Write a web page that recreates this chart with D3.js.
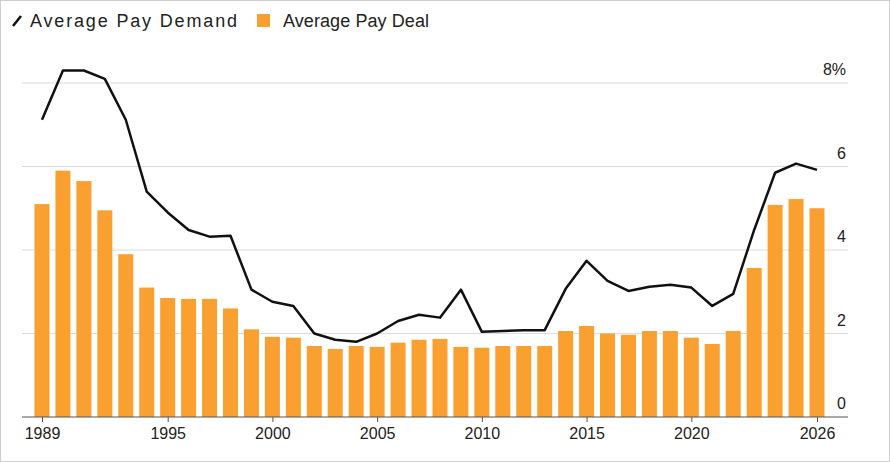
<!DOCTYPE html>
<html lang="en">
<head>
<meta charset="UTF-8">
<script src="https://d3js.org/d3.v7.min.js"></script>
<style>
  body { margin: 0; background: #fff; font-family: Arial, "Liberation Sans", sans-serif; }
  #frame { position: absolute; left: 0; top: 0; width: 888px; height: 460px; border: 1px solid #cfcfcf; }
</style>
</head>
<body>
<div id="frame"></div>
<svg id="viz" width="890" height="462" style="position:absolute;left:0;top:0"></svg>
<script>
var years = d3.range(1989, 2027);
var payDeal = [5.1, 5.9, 5.65, 4.95, 3.9, 3.1, 2.85, 2.83, 2.83, 2.6,
               2.1, 1.92, 1.9, 1.7, 1.63, 1.7, 1.68, 1.78, 1.85, 1.87,
               1.68, 1.66, 1.7, 1.7, 1.7, 2.06, 2.18, 2.0, 1.97, 2.06,
               2.06, 1.9, 1.75, 2.06, 3.57, 5.08, 5.22, 5.0];
var payDemand = [7.12, 8.3, 8.3, 8.1, 7.12, 5.4, 4.9, 4.48, 4.32, 4.34,
                 3.05, 2.76, 2.66, 2.0, 1.85, 1.8, 2.0, 2.3, 2.45, 2.38,
                 3.05, 2.04, 2.06, 2.08, 2.08, 3.07, 3.74, 3.26, 3.02, 3.12,
                 3.17, 3.1, 2.66, 2.95, 4.48, 5.85, 6.07, 5.92];
var yTicks = [0, 2, 4, 6, 8];
var xTicks = [1989, 1995, 2000, 2005, 2010, 2015, 2020, 2026];

var svg = d3.select("#viz");
var left = 22, right = 848, y0 = 417, y8 = 83;

var x = d3.scaleLinear().domain([1989, 2026]).range([42, 817]);
var y = d3.scaleLinear().domain([0, 8]).range([y0, y8]);
var bw = 15;

// grid
svg.append("g").selectAll("line").data(yTicks.filter(function(d){ return d > 0; }))
  .enter().append("line")
  .attr("x1", left).attr("x2", right)
  .attr("y1", function(d){ return y(d); }).attr("y2", function(d){ return y(d); })
  .attr("stroke", "#dcdcdc").attr("stroke-width", 1);

// bars
svg.append("g").selectAll("rect").data(payDeal)
  .enter().append("rect")
  .attr("x", function(d, i){ return x(years[i]) - bw / 2; })
  .attr("y", function(d){ return y(d); })
  .attr("width", bw)
  .attr("height", function(d){ return y0 - y(d); })
  .attr("fill", "#f9a030");

// baseline
svg.append("line").attr("x1", left).attr("x2", right).attr("y1", y0).attr("y2", y0)
  .attr("stroke", "#555").attr("stroke-width", 1);

// line
svg.append("path").datum(payDemand)
  .attr("fill", "none").attr("stroke", "#111").attr("stroke-width", 2.5)
  .attr("stroke-linejoin", "round")
  .attr("d", d3.line().x(function(d, i){ return x(years[i]); }).y(function(d){ return y(d); }));

// y labels
svg.append("g").selectAll("text").data(yTicks)
  .enter().append("text")
  .attr("x", 846).attr("y", function(d){ return y(d) - 8; })
  .attr("text-anchor", "end")
  .attr("font-size", 16).attr("fill", "#222")
  .text(function(d){ return d === 8 ? "8%" : d; });

// x axis
var xa = svg.append("g").attr("transform", "translate(0," + y0 + ")")
  .call(d3.axisBottom(x).tickValues(xTicks).tickFormat(d3.format("d")).tickSize(5));
xa.select(".domain").remove();
xa.selectAll("line").attr("stroke", "#555");
xa.selectAll("text").attr("font-size", 16).attr("fill", "#222")
  .attr("font-family", "Arial, Liberation Sans, sans-serif").attr("dy", "0.85em");

// legend
var lg = svg.append("g").attr("font-size", 18).attr("fill", "#222");
lg.append("line").attr("x1", 13).attr("y1", 26).attr("x2", 21).attr("y2", 16)
  .attr("stroke", "#111").attr("stroke-width", 2.5);
lg.append("text").attr("x", 30).attr("y", 27).attr("textLength", 207).text("Average Pay Demand");
lg.append("rect").attr("x", 257).attr("y", 14).attr("width", 13).attr("height", 13).attr("fill", "#f9a030");
lg.append("text").attr("x", 283).attr("y", 27).attr("textLength", 146).text("Average Pay Deal");
</script>
</body>
</html>
